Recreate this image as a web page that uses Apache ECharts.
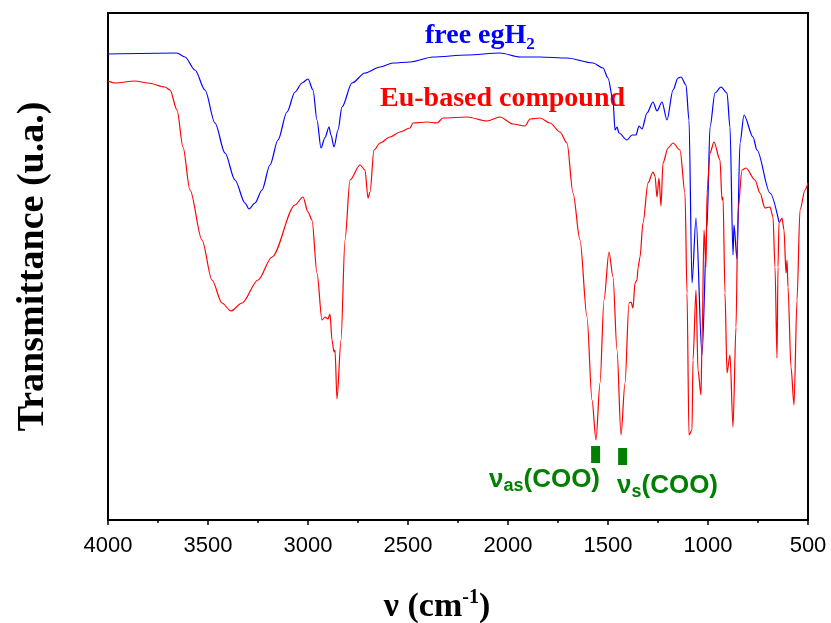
<!DOCTYPE html>
<html>
<head>
<meta charset="utf-8">
<script src="https://cdn.jsdelivr.net/npm/echarts@6/dist/echarts.min.js"></script>
<style>
  html, body { margin: 0; padding: 0; background: #fff; }
  #chart { width: 831px; height: 623px; }
</style>
</head>
<body>
<div id="chart"></div>
<script>
// free egH2 spectrum (wavenumber, transmittance a.u.)
var freeWn = [4000, 3655, 3615, 3565, 3515, 3465, 3415, 3365, 3315, 3295, 3265, 3230, 3190, 3150, 3105, 3065, 3030, 3000, 2975, 2955, 2935, 2915, 2895, 2885, 2870, 2850, 2830, 2780, 2715, 2640, 2575, 2490, 2375, 2205, 2040, 1940, 1840, 1705, 1575, 1525, 1500, 1475, 1465, 1455, 1445, 1405, 1380, 1360, 1345, 1330, 1305, 1275, 1255, 1230, 1205, 1175, 1150, 1135, 1110, 1095, 1080, 1060, 1030, 1005, 990, 965, 935, 905, 890, 875, 870, 855, 840, 820, 775, 755, 690, 645];
var freeT = [93.2, 93.4, 92.6, 90, 86, 79.4, 73.4, 68, 63.4, 62.2, 63.4, 66, 71, 76, 81.6, 85.6, 87.4, 88.2, 86, 80, 74.4, 76.5, 78.6, 77, 74.6, 78, 82.6, 87.4, 89.4, 90.6, 91.4, 91.6, 92.6, 93, 93.4, 92.6, 92.6, 92.4, 91.4, 90.4, 88.4, 84, 78, 78.6, 77.4, 76, 77, 77, 78.8, 78.2, 81.4, 83.6, 81.8, 83.6, 80, 86, 88.4, 88.6, 87, 80, 47.4, 60.4, 33, 58.6, 78.6, 85.4, 86.6, 85.4, 78.6, 53, 59, 52.2, 75.4, 81, 76.6, 74, 65.4, 59.6];

// Eu-based compound spectrum
var euWn = [4000, 3965, 3865, 3800, 3715, 3690, 3655, 3625, 3590, 3530, 3480, 3430, 3385, 3330, 3250, 3180, 3065, 3025, 3000, 2980, 2955, 2930, 2915, 2900, 2890, 2880, 2870, 2865, 2855, 2835, 2815, 2790, 2740, 2715, 2700, 2690, 2670, 2640, 2590, 2540, 2490, 2475, 2405, 2355, 2325, 2205, 2105, 2040, 1975, 1915, 1890, 1840, 1790, 1740, 1705, 1675, 1640, 1605, 1580, 1560, 1540, 1520, 1495, 1475, 1455, 1435, 1415, 1395, 1385, 1375, 1365, 1355, 1350, 1340, 1325, 1300, 1275, 1265, 1255, 1245, 1235, 1225, 1200, 1175, 1140, 1115, 1105, 1095, 1080, 1075, 1060, 1050, 1035, 1030, 1020, 1010, 1005, 990, 970, 940, 930, 925, 915, 905, 890, 875, 860, 850, 830, 810, 765, 740, 715, 690, 675, 665, 655, 650, 645, 630, 620, 610, 605, 600, 585, 570, 555, 540, 515, 500];
var euT = [87.8, 87.4, 87.8, 87.4, 86.6, 86, 82, 74.6, 66, 56, 48, 43.4, 41.8, 43.4, 48, 52.6, 63, 64.6, 61.6, 60, 49.4, 40, 40.6, 40.2, 41.2, 36, 33.6, 34, 24.2, 36, 56, 68, 71, 70, 64.4, 65.6, 74, 75.4, 76.6, 77.6, 78.4, 79.4, 79.6, 79.4, 80.4, 80.6, 79.8, 80.6, 79.2, 78.8, 80.2, 80.4, 79.4, 77.6, 75.4, 65.4, 56, 40.6, 24, 16, 27.4, 44, 53.6, 48.6, 34, 17, 27.4, 43.4, 43.6, 42.4, 47.4, 48, 50.4, 52.6, 59.4, 67.4, 69.6, 68.8, 64.6, 68.4, 62.8, 71.4, 74.4, 75.4, 74, 65.4, 45.4, 17, 18, 32, 46, 30, 25, 35.4, 58, 50.6, 65.4, 73.4, 75.6, 72, 64, 64.6, 45.4, 29.4, 33, 18.6, 38.6, 62, 70, 70.4, 68, 65.4, 62.4, 62.6, 60.6, 50.6, 32.4, 50.6, 59.4, 60.4, 58, 49.4, 52, 46.6, 30.6, 23, 44, 62, 66, 67.4];

// carboxylate band markers
var cooWn = [1562, 1427];
var cooT = [13.1, 12.7];

function pairs(xs, ys) {
  var out = [];
  for (var i = 0; i < xs.length; i++) out.push([xs[i], ys[i]]);
  return out;
}

var serif = '"Liberation Serif", "Times New Roman", serif';
var sans = '"Liberation Sans", Arial, sans-serif';
var green = '#008000';

var chart = echarts.init(document.getElementById('chart'));
chart.setOption({
  animation: false,
  backgroundColor: '#fff',
  grid: {
    left: 108, right: 23, top: 13, bottom: 103,
    show: true, borderColor: '#000', borderWidth: 2
  },
  xAxis: {
    type: 'value',
    min: 500, max: 4000, interval: 500,
    inverse: true,
    splitLine: { show: false },
    axisLine: { show: true, onZero: false, lineStyle: { color: '#000', width: 2 } },
    axisTick: { show: true, length: 5, lineStyle: { color: '#000', width: 1.5 } },
    minorTick: { show: true, splitNumber: 2, length: 3, lineStyle: { color: '#000', width: 1.5 } },
    axisLabel: {
      color: '#000', fontFamily: sans, fontSize: 22, margin: 15,
      formatter: function (v) { return String(v); }
    }
  },
  yAxis: {
    type: 'value',
    min: 0, max: 101.4,
    splitLine: { show: false },
    axisLine: { show: true, lineStyle: { color: '#000', width: 2 } },
    axisTick: { show: false },
    axisLabel: { show: false },
    name: 'Transmittance (u.a.)',
    nameLocation: 'middle',
    nameGap: 56,
    nameTextStyle: { color: '#000', fontFamily: serif, fontWeight: 'bold', fontSize: 38 }
  },
  series: [
    {
      name: 'free egH2', type: 'line', data: pairs(freeWn, freeT),
      showSymbol: false, smooth: 0.3, smoothMonotone: 'x',
      lineStyle: { color: '#0000ff', width: 1.2 }
    },
    {
      name: 'Eu-based compound', type: 'line', data: pairs(euWn, euT),
      showSymbol: false, smooth: 0.3, smoothMonotone: 'x',
      lineStyle: { color: '#ff0000', width: 1.2 }
    },
    {
      type: 'scatter', data: pairs(cooWn, cooT),
      symbol: 'rect', symbolSize: [9, 17],
      itemStyle: { color: green, opacity: 1 }
    }
  ],
  graphic: [
    {
      type: 'text', x: 425, y: 36,
      style: {
        text: '{m|free egH}{s|2}', verticalAlign: 'middle',
        rich: {
          m: { fontFamily: serif, fontWeight: 'bold', fontSize: 28, fill: '#0000ff', lineHeight: 34 },
          s: { fontFamily: serif, fontWeight: 'bold', fontSize: 17, fill: '#0000ff', lineHeight: 12, verticalAlign: 'bottom' }
        }
      }
    },
    {
      type: 'text', x: 380, y: 99,
      style: {
        text: 'Eu-based compound', verticalAlign: 'middle',
        font: 'bold 28px ' + serif, fill: '#ff0000'
      }
    },
    {
      type: 'text', x: 489, y: 480,
      style: {
        text: '{m|ν}{s|as}{m|(COO)}', verticalAlign: 'middle',
        rich: {
          m: { fontFamily: sans, fontWeight: 'bold', fontSize: 26, fill: green, lineHeight: 30 },
          s: { fontFamily: sans, fontWeight: 'bold', fontSize: 18, fill: green, lineHeight: 12, verticalAlign: 'bottom' }
        }
      }
    },
    {
      type: 'text', x: 617, y: 486,
      style: {
        text: '{m|ν}{s|s}{m|(COO)}', verticalAlign: 'middle',
        rich: {
          m: { fontFamily: sans, fontWeight: 'bold', fontSize: 26, fill: green, lineHeight: 30 },
          s: { fontFamily: sans, fontWeight: 'bold', fontSize: 18, fill: green, lineHeight: 12, verticalAlign: 'bottom' }
        }
      }
    },
    {
      type: 'text', x: 437, y: 607,
      style: {
        text: '{m|ν (cm}{p|-1}{m|)}', align: 'center', verticalAlign: 'middle',
        rich: {
          m: { fontFamily: serif, fontWeight: 'bold', fontSize: 34, fill: '#000', lineHeight: 38 },
          p: { fontFamily: serif, fontWeight: 'bold', fontSize: 20, fill: '#000', lineHeight: 16, verticalAlign: 'top' }
        }
      }
    }
  ]
});
</script>
</body>
</html>
